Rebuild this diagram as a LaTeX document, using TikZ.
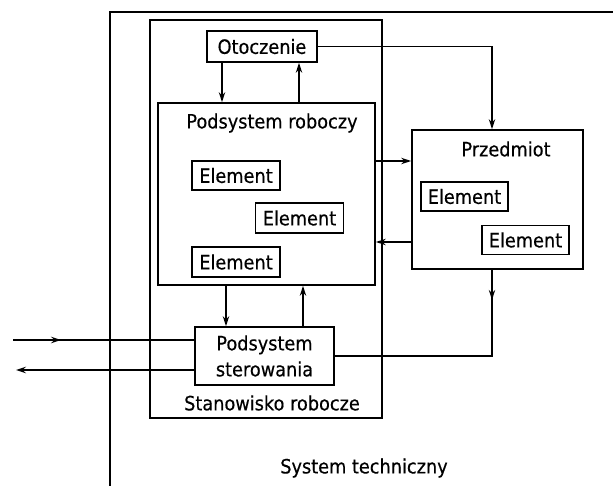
\documentclass[tikz,border=0pt]{standalone}
\usepackage{fontspec}
\setmainfont{DejaVu Sans}[FakeStretch=0.9, FakeBold=0.4]
\usetikzlibrary{positioning, arrows.meta}
\tikzset{
  every node/.style={font=\fontsize{14}{18.5}\selectfont},
  block/.style={
    draw,
    line width=1.2pt,
    inner sep=0pt
  },
  elem/.style={
    draw,
    line width=1.2pt,
    minimum width=2.2cm,
    minimum height=0.74cm,
    inner sep=0pt
  },
  link/.style={
    -{Stealth[length=7pt,width=4.5pt]},
    line width=1.2pt
  },
  wire/.style={line width=1.2pt}
}

\begin{document}
\begin{tikzpicture}[x=0.025cm, y=-0.025cm]
  \useasboundingbox (0,0) rectangle (613,486);

  % stanowisko and its parts
  \node[block, minimum width=5.8cm, minimum height=9.95cm] (stanowisko) at (266,219) {};
  \node[block, minimum width=2.75cm, minimum height=0.775cm] (otoczenie) at (262,46.5) {Otoczenie};
  \node[block, minimum width=5.425cm, minimum height=4.55cm] (roboczy) at (266.5,194) {};
  \node (roboczyLbl) at (272,123) {Podsystem roboczy};
  \node[elem] (elemA) at (236,175.5) {Element};
  \node[elem] (elemB) at (299.5,218) {Element};
  \node[elem] (elemC) at (236,262) {Element};
  \node[block, minimum width=3.475cm, minimum height=1.45cm, align=center] (sterowanie) at (264.5,356) {Podsystem\\sterowania};
  \node (stanowiskoLbl) at (272,403) {Stanowisko robocze};

  % przedmiot
  \node[block, minimum width=4.275cm, minimum height=3.475cm] (przedmiot) at (497.5,199.5) {};
  \node (przedmiotLbl) at (506,149) {Przedmiot};
  \node[elem, minimum width=2.175cm, minimum height=0.72cm] (elemD) at (464.5,196.5) {Element};
  \node[elem, minimum width=2.175cm, minimum height=0.72cm] (elemE) at (525.5,240) {Element};

  \node (systemLbl) at (364,468) {System techniczny};

  \coordinate (colA) at (222,0);
  \coordinate (colB) at (299,0);
  \coordinate (colC) at (226,0);
  \coordinate (colD) at (303,0);
  \coordinate (colE) at (492,0);
  \coordinate (rowA) at (0,161);
  \coordinate (rowB) at (0,242);
  \coordinate (inA) at (13,340);
  \coordinate (outA) at (16,370);
  \coordinate (sysBL) at (110,486);
  \coordinate (sysTR) at (613,12);

  % connections
  \draw[link] (otoczenie.south -| colA) -- (roboczy.north -| colA);
  \draw[link] (roboczy.north -| colB) -- (otoczenie.south -| colB);
  \draw[link] (otoczenie.east) -| (przedmiot.north -| colE);
  \draw[link] (roboczy.east |- rowA) -- (przedmiot.west |- rowA);
  \draw[link] (przedmiot.west |- rowB) -- (roboczy.east |- rowB);
  \draw[wire] (przedmiot.south -| colE) |- (sterowanie.east);
  \draw[link] (przedmiot.south -| colE) -- ++(0,30);
  \draw[link] (roboczy.south -| colC) -- (sterowanie.north -| colC);
  \draw[link] (sterowanie.north -| colD) -- (roboczy.south -| colD);
  \draw[wire] (inA) -- (sterowanie.west |- inA);
  \draw[link] (inA) -- ++(48,0);
  \draw[link] (sterowanie.west |- outA) -- (outA);

  % system boundary
  \draw[wire] (sysBL) |- (sysTR);
\end{tikzpicture}
\end{document}
